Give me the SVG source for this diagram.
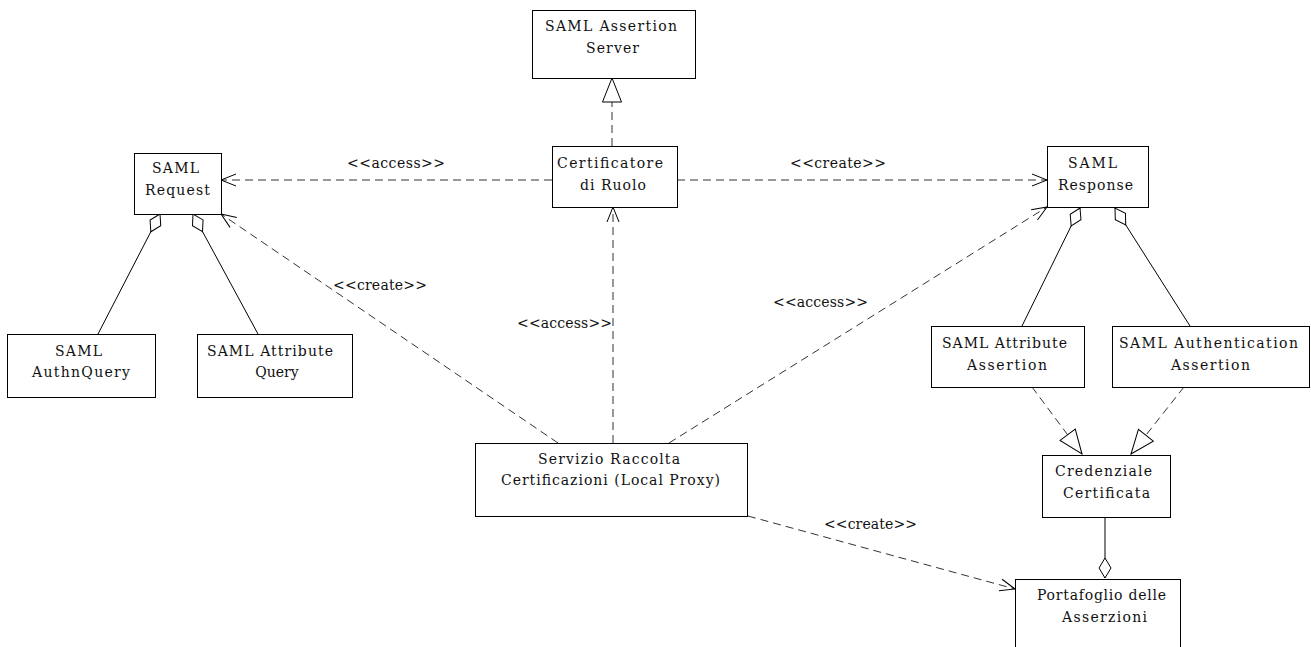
<svg xmlns="http://www.w3.org/2000/svg" width="1311" height="647" viewBox="0 0 1311 647">
  <style>
    .box { fill: #fff; stroke: #000; stroke-width: 1; }
    .lbl { font-family: "DejaVu Serif", "Liberation Serif", serif; font-size: 14px; fill: #111; }
    .mid { text-anchor: middle; }
    .dep { fill: none; stroke: #333; stroke-width: 1; stroke-dasharray: 8 5; }
    .agg { fill: none; stroke: #000; stroke-width: 1; }
  </style>
  <defs>
    <!-- open arrowhead for dependencies -->
    <marker id="open" markerUnits="userSpaceOnUse" markerWidth="20" markerHeight="16" viewBox="-17 -8 20 16" refX="0" refY="0" orient="auto">
      <path d="M-15,-6 L0,0 L-15,6" fill="none" stroke="#000" stroke-width="1" stroke-dasharray="none"/>
    </marker>
    <!-- hollow triangle for realization -->
    <marker id="tri" markerUnits="userSpaceOnUse" markerWidth="28" markerHeight="24" viewBox="-26 -12 28 24" refX="0" refY="0" orient="auto">
      <path d="M0,0 L-24,-9.5 L-24,9.5 Z" fill="#fff" stroke="#000" stroke-width="1" stroke-dasharray="none"/>
    </marker>
    <!-- hollow diamond for aggregation -->
    <marker id="dia" markerUnits="userSpaceOnUse" markerWidth="24" markerHeight="16" viewBox="-22 -8 24 16" refX="0" refY="0" orient="auto">
      <path d="M0,0 L-10,-6 L-20,0 L-10,6 Z" fill="#fff" stroke="#000" stroke-width="1"/>
    </marker>
  </defs>

  <g id="connectors">
    <!-- dependencies -->
    <path class="dep" d="M552,180 L221,180" marker-end="url(#open)"/>
    <path class="dep" d="M677,180 L1047,180" marker-end="url(#open)"/>
    <path class="dep" d="M558,443 L221,214" marker-end="url(#open)"/>
    <path class="dep" d="M613,443 L613,207" marker-end="url(#open)"/>
    <path class="dep" d="M669,443 L1047,207" marker-end="url(#open)"/>
    <path class="dep" d="M748,516 L1015,589" marker-end="url(#open)"/>
    <!-- realizations -->
    <path class="dep" d="M612,146 L612,78" marker-end="url(#tri)"/>
    <path class="dep" d="M1032,387 L1082,454" marker-end="url(#tri)"/>
    <path class="dep" d="M1184,387 L1131,454" marker-end="url(#tri)"/>
    <!-- aggregations -->
    <path class="agg" d="M98,334 L160,214" marker-end="url(#dia)"/>
    <path class="agg" d="M258,334 L193,214" marker-end="url(#dia)"/>
    <path class="agg" d="M1022,326 L1080,208" marker-end="url(#dia)"/>
    <path class="agg" d="M1190,326 L1115,208" marker-end="url(#dia)"/>
    <path class="agg" d="M1105,517 L1105,578" marker-end="url(#dia)"/>
    <!-- stereotype labels -->
    <text class="lbl" x="347" y="168" textLength="98" lengthAdjust="spacing">&lt;&lt;access&gt;&gt;</text>
    <text class="lbl" x="790" y="168" textLength="96" lengthAdjust="spacing">&lt;&lt;create&gt;&gt;</text>
    <text class="lbl" x="333" y="290" textLength="94" lengthAdjust="spacing">&lt;&lt;create&gt;&gt;</text>
    <text class="lbl" x="517" y="328" textLength="95" lengthAdjust="spacing">&lt;&lt;access&gt;&gt;</text>
    <text class="lbl" x="773" y="307" textLength="95" lengthAdjust="spacing">&lt;&lt;access&gt;&gt;</text>
    <text class="lbl" x="824" y="529" textLength="93" lengthAdjust="spacing">&lt;&lt;create&gt;&gt;</text>
  </g>

  <g id="saml-assertion-server">
    <rect class="box" x="532.5" y="10.5" width="163" height="68"/>
    <text class="lbl" x="545" y="31" textLength="132" lengthAdjust="spacing">SAML Assertion</text>
    <text class="lbl" x="586" y="53" textLength="53" lengthAdjust="spacing">Server</text>
  </g>
  <g id="certificatore-di-ruolo">
    <rect class="box" x="552.5" y="146.5" width="125" height="61"/>
    <text class="lbl" x="557" y="168" textLength="106" lengthAdjust="spacing">Certificatore</text>
    <text class="lbl" x="580" y="190" textLength="66" lengthAdjust="spacing">di Ruolo</text>
  </g>
  <g id="saml-request">
    <rect class="box" x="134.5" y="153.5" width="87" height="61"/>
    <text class="lbl" x="152" y="173" textLength="47" lengthAdjust="spacing">SAML</text>
    <text class="lbl" x="145" y="195" textLength="65" lengthAdjust="spacing">Request</text>
  </g>
  <g id="saml-response">
    <rect class="box" x="1047.5" y="146.5" width="101" height="61"/>
    <text class="lbl" x="1068" y="168" textLength="49" lengthAdjust="spacing">SAML</text>
    <text class="lbl" x="1058" y="190" textLength="75" lengthAdjust="spacing">Response</text>
  </g>
  <g id="saml-authnquery">
    <rect class="box" x="7.5" y="334.5" width="148" height="63"/>
    <text class="lbl" x="55" y="356" textLength="47" lengthAdjust="spacing">SAML</text>
    <text class="lbl" x="32" y="377" textLength="98" lengthAdjust="spacing">AuthnQuery</text>
  </g>
  <g id="saml-attribute-query">
    <rect class="box" x="197.5" y="334.5" width="155" height="63"/>
    <text class="lbl" x="207" y="356" textLength="126" lengthAdjust="spacing">SAML Attribute</text>
    <text class="lbl mid" x="277" y="377">Query</text>
  </g>
  <g id="saml-attribute-assertion">
    <rect class="box" x="931.5" y="326.5" width="153" height="61"/>
    <text class="lbl" x="942" y="348" textLength="125" lengthAdjust="spacing">SAML Attribute</text>
    <text class="lbl" x="967" y="370" textLength="80" lengthAdjust="spacing">Assertion</text>
  </g>
  <g id="saml-authentication-assertion">
    <rect class="box" x="1112.5" y="326.5" width="197" height="61"/>
    <text class="lbl" x="1119" y="348" textLength="179" lengthAdjust="spacing">SAML Authentication</text>
    <text class="lbl" x="1171" y="370" textLength="79" lengthAdjust="spacing">Assertion</text>
  </g>
  <g id="servizio-raccolta-certificazioni">
    <rect class="box" x="475.5" y="443.5" width="272" height="73"/>
    <text class="lbl" x="538" y="464" textLength="142" lengthAdjust="spacing">Servizio Raccolta</text>
    <text class="lbl" x="501" y="485" textLength="219" lengthAdjust="spacing">Certificazioni (Local Proxy)</text>
  </g>
  <g id="credenziale-certificata">
    <rect class="box" x="1042.5" y="455.5" width="128" height="62"/>
    <text class="lbl" x="1055" y="476" textLength="97" lengthAdjust="spacing">Credenziale</text>
    <text class="lbl" x="1063" y="498" textLength="87" lengthAdjust="spacing">Certificata</text>
  </g>
  <g id="portafoglio-delle-asserzioni">
    <rect class="box" x="1015.5" y="579.5" width="165" height="80"/>
    <text class="lbl" x="1037" y="600" textLength="129" lengthAdjust="spacing">Portafoglio delle</text>
    <text class="lbl" x="1062" y="622" textLength="85" lengthAdjust="spacing">Asserzioni</text>
  </g>
</svg>
